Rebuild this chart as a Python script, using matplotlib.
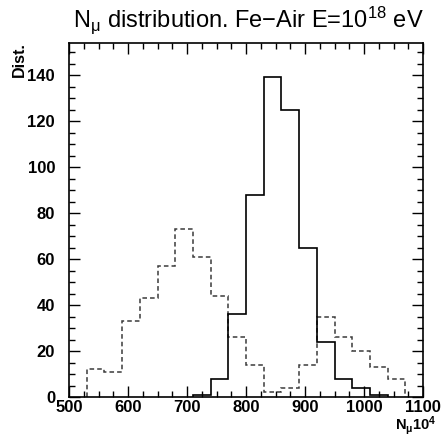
import numpy as np
import matplotlib
matplotlib.use("Agg")
import matplotlib.pyplot as plt
from matplotlib.ticker import MultipleLocator

plt.rcParams['font.family'] = ['Liberation Sans', 'DejaVu Sans']
plt.rcParams['mathtext.fontset'] = 'custom'
plt.rcParams['mathtext.rm'] = 'Liberation Sans'
plt.rcParams['mathtext.it'] = 'Liberation Sans:italic'
plt.rcParams['mathtext.bf'] = 'Liberation Sans:bold'

# Data
solid_edges = [710, 740, 770, 800, 830, 860, 890, 920, 950, 980, 1010, 1040]
solid_counts = [1, 8, 36, 88, 139, 125, 65, 24, 8, 4, 1]
dashed_edges = [530, 560, 590, 620, 650, 680, 710, 740, 770, 800, 830, 860,
                890, 920, 950, 980, 1010, 1040, 1070]
dashed_counts = [12, 11, 33, 43, 57, 73, 61, 44, 26, 14, 2, 4, 14, 35, 26, 20, 13, 8]
x_ticks = [500, 600, 700, 800, 900, 1000, 1100]
y_ticks = [0, 20, 40, 60, 80, 100, 120, 140]

fig = plt.figure(figsize=(4.44, 4.36), dpi=100)
ax = fig.add_axes([69/444, 1-397/436, (423-69)/444, (397-43)/436])

ax.stairs(dashed_counts, dashed_edges, color='#3a3a3a', linestyle=(0, (3, 2)), linewidth=1.1)
ax.stairs(solid_counts, solid_edges, color='black', linewidth=1.2)

ax.set_xlim(500, 1100)
ax.set_ylim(0, 154)
ax.set_xticks(x_ticks)
ax.set_yticks(y_ticks)
ax.xaxis.set_minor_locator(MultipleLocator(25))
ax.yaxis.set_minor_locator(MultipleLocator(5))
ax.tick_params(which='both', direction='in', top=True, right=True, width=1)
ax.tick_params(which='major', length=8)
ax.tick_params(which='minor', length=4)
ax.tick_params(axis='x', which='major', pad=2)
ax.tick_params(axis='y', which='major', pad=10)
for lab in ax.get_xticklabels() + ax.get_yticklabels():
    lab.set_fontweight('bold')
    lab.set_fontsize(12)
for s in ax.spines.values():
    s.set_linewidth(1.2)

fig.text(248/444, 1-27/436, r'N$_{\mathrm{μ}}$ distribution. Fe$-$Air E=10$^{18}$ eV',
         ha='center', va='baseline', fontsize=17)
fig.text(19/444, 1-42/436, 'Dist.', rotation=90, ha='center', va='top',
         fontsize=11.5, fontweight='bold')
fig.text(436/444, 1-430/436, r'$\mathbf{N_{μ}10^{4}}$', ha='right', va='baseline',
         fontsize=10.5)

fig.savefig('out.png', dpi=100)
